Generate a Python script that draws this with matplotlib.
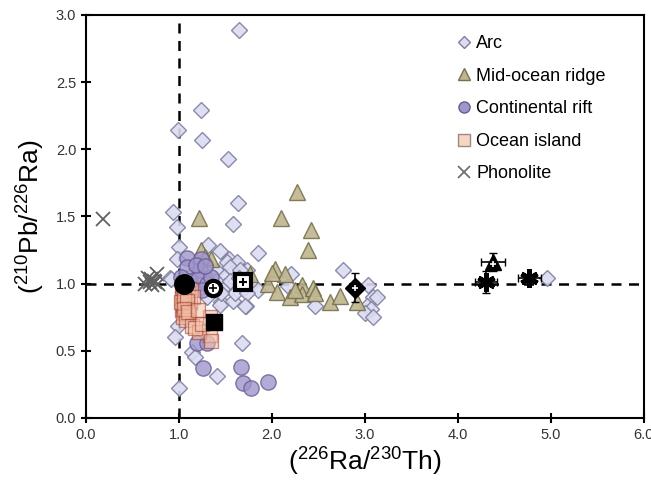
import matplotlib
matplotlib.use("Agg")
import matplotlib.pyplot as plt
from matplotlib.lines import Line2D

plt.rcParams["font.family"] = ["Liberation Sans", "DejaVu Sans"]
plt.rcParams["mathtext.default"] = "regular"

# Arc
arc_x = [1.65, 1.24, 0.99, 1.25, 1.53, 1.64, 0.94, 1.58, 0.98, 1.85, 1.00, 1.31, 1.44, 1.54,
         1.63, 1.73, 0.98, 0.90, 1.52, 1.62, 1.55, 1.41, 1.66, 1.30, 1.49, 2.76, 3.03, 3.09,
         3.13, 3.02, 3.07, 3.00, 3.09, 2.46, 1.72, 1.45, 1.58, 1.68, 2.17, 2.21, 0.99, 0.96,
         1.14, 1.17, 1.41, 1.00, 1.44, 4.96, 1.20, 1.35, 1.50, 1.60, 1.25, 1.40, 1.55, 1.70,
         1.10, 1.45, 0.92, 1.15, 1.65, 1.78, 1.85, 1.30, 1.73, 1.71]
arc_y = [2.89, 2.29, 2.14, 2.07, 1.93, 1.60, 1.53, 1.44, 1.42, 1.23, 1.27, 1.29, 1.24, 1.18,
         1.14, 1.10, 1.18, 1.04, 1.16, 1.16, 1.12, 1.09, 1.10, 1.03, 1.05, 1.10, 0.99, 0.90,
         0.90, 0.83, 0.81, 0.78, 0.75, 0.83, 0.83, 0.86, 0.87, 0.56, 0.98, 1.07, 0.68, 0.60,
         0.49, 0.45, 0.31, 0.22, 0.84, 1.04, 1.00, 0.95, 0.98, 0.93, 1.05, 1.02, 1.02, 0.97,
         0.92, 0.93, 1.03, 1.08, 1.04, 1.00, 0.95, 0.90, 0.93, 0.83]

# Mid-ocean ridge
mor_x = [2.27, 1.22, 2.10, 2.42, 2.39, 1.24, 1.34, 2.03, 2.14, 1.96, 2.06, 2.19, 2.32, 2.32,
         2.44, 2.46, 2.62, 2.73, 1.76, 2.91, 2.25, 2.00, 1.28]
mor_y = [1.68, 1.49, 1.49, 1.40, 1.25, 1.25, 1.18, 1.11, 1.07, 1.00, 0.94, 0.90, 0.99, 0.92,
         0.97, 0.93, 0.86, 0.91, 1.07, 0.86, 0.95, 1.08, 1.20]

# Continental rift
rift_x = [1.09, 1.24, 1.09, 1.23, 1.19, 1.30, 1.26, 1.67, 1.69, 1.78, 1.96, 1.02, 1.12, 1.20,
          1.30, 1.15, 1.05, 1.25, 1.35, 1.18, 1.28]
rift_y = [1.19, 1.18, 1.12, 1.10, 0.56, 0.56, 0.37, 0.38, 0.26, 0.22, 0.27, 1.05, 1.02, 1.03,
          1.00, 0.96, 0.93, 0.95, 1.05, 1.14, 1.13]

# Ocean island
oib_x = [1.03, 1.08, 1.04, 1.10, 1.03, 1.07, 1.12, 1.04, 1.09, 1.03, 1.07, 1.11, 1.04, 1.08,
         1.13, 1.06, 1.15, 1.02, 1.05, 1.09, 1.06, 1.10, 1.14, 1.33, 1.22, 1.35, 1.17, 1.33,
         1.25, 1.20]
oib_y = [0.98, 0.96, 0.93, 0.92, 0.89, 0.88, 0.86, 0.84, 0.82, 0.80, 0.78, 0.77, 0.75, 0.73,
         0.95, 1.00, 0.90, 0.86, 0.91, 0.87, 0.81, 0.79, 0.68, 0.62, 0.64, 0.57, 0.67, 0.75,
         0.70, 0.80]

# Phonolite
phon_x = [0.18, 0.67, 0.74, 0.71, 0.63, 0.76, 0.70, 0.78, 0.73, 0.69]
phon_y = [1.48, 1.04, 1.01, 0.99, 1.00, 1.07, 1.03, 1.00, 1.02, 1.01]

# black summary symbols (mean values)
mean_circle = (1.06, 1.00)
open_circle = (1.37, 0.97)
open_square = (1.69, 1.01)
filled_square = (1.38, 0.71)
diamond_pt = (2.89, 0.97, 0.11)
triangle_pt = (4.38, 1.16, 0.13, 0.07)
star_pts_x = [4.30, 4.77]
star_pts_y = [1.01, 1.04]
star_xerr = [0.12, 0.12]
star_yerr = [0.08, 0.0]

legend_labels = ["Arc", "Mid-ocean ridge", "Continental rift", "Ocean island", "Phonolite"]

arc_style = dict(marker="D", ms=8, mfc="#dcdcf2", mec="#7f7f9f", mew=1.0, ls="none", alpha=0.9)
mor_style = dict(marker="^", ms=11, mfc="#bfb68f", mec="#77704e", mew=1.0, ls="none", alpha=0.9)
rift_style = dict(marker="o", ms=11, mfc="#a195cc", mec="#665c94", mew=1.0, ls="none", alpha=0.8)
oib_style = dict(marker="s", ms=10, mfc="#f4c0a8", mec="#9c3322", mew=1.0, ls="none", alpha=0.55)
phon_style = dict(marker="x", ms=10, mec="#606060", mew=1.3, ls="none")

fig = plt.figure(figsize=(6.51, 4.83), dpi=100)
ax = fig.add_axes([0.132, 0.135, 0.857, 0.834])

ax.axvline(1.0, color="black", ls=(0, (4, 3)), lw=1.8, zorder=1)
ax.axhline(1.0, color="black", ls=(0, (4, 3)), lw=1.8, zorder=1)

ax.plot(phon_x, phon_y, **phon_style, zorder=2)
ax.plot(arc_x, arc_y, **arc_style, zorder=3)
ax.plot(mor_x, mor_y, **mor_style, zorder=3)
ax.plot(rift_x, rift_y, **rift_style, zorder=4)
ax.plot(oib_x, oib_y, **oib_style, zorder=4)

# summary symbols
ax.plot(*mean_circle, marker="o", ms=14, color="black", zorder=6)
ax.plot(*open_circle, marker="o", ms=11, mfc="white", mec="black", mew=3, zorder=6)
ax.plot(*open_circle, marker="+", ms=6, color="black", mew=1.2, zorder=7)
ax.plot(*open_square, marker="s", ms=11, mfc="white", mec="black", mew=3, zorder=6)
ax.plot(*open_square, marker="+", ms=6, color="black", mew=1.5, zorder=7)
ax.plot(*filled_square, marker="s", ms=12, color="black", zorder=6)
ax.errorbar(diamond_pt[0], diamond_pt[1], yerr=diamond_pt[2], fmt="D", ms=10, color="black",
            ecolor="black", elinewidth=1.2, capsize=3, zorder=6)
ax.plot(diamond_pt[0], diamond_pt[1], marker="+", ms=5, color="white", mew=1.2, zorder=7)
ax.errorbar(triangle_pt[0], triangle_pt[1], xerr=triangle_pt[2], yerr=triangle_pt[3], fmt="^",
            ms=12, color="black", elinewidth=1.2, capsize=3, zorder=6)
ax.plot(triangle_pt[0], triangle_pt[1] - 0.015, marker="+", ms=5, color="white", mew=1.2, zorder=7)
ax.errorbar(star_pts_x, star_pts_y, xerr=star_xerr, yerr=star_yerr, fmt="none",
            ecolor="black", elinewidth=1.2, capsize=3, zorder=6)
ax.plot(star_pts_x, star_pts_y, marker=(6, 2, 0), ms=13, color="black", mew=3.5, ls="none", zorder=7)

ax.set_xlim(0, 6)
ax.set_ylim(0, 3)
ax.set_xticks([0, 1, 2, 3, 4, 5, 6])
ax.set_yticks([0, 0.5, 1.0, 1.5, 2.0, 2.5, 3.0])
ax.set_xticklabels(["%.1f" % v for v in ax.get_xticks()])
ax.set_yticklabels(["%.1f" % v for v in ax.get_yticks()])
ax.tick_params(direction="inout", length=7, width=1.5, labelsize=10.5, labelcolor="#333333")
for s in ax.spines.values():
    s.set_linewidth(1.5)

ax.set_xlabel("($^{226}$Ra/$^{230}$Th)", fontsize=19, labelpad=3)
ax.set_ylabel("($^{210}$Pb/$^{226}$Ra)", fontsize=19, labelpad=6)

handles = [
    Line2D([], [], marker="D", ms=6, mfc="#dcdcf2", mec="#7f7f9f", ls="none"),
    Line2D([], [], marker="^", ms=8, mfc="#bfb68f", mec="#77704e", ls="none"),
    Line2D([], [], marker="o", ms=8, mfc="#a195cc", mec="#665c94", ls="none"),
    Line2D([], [], marker="s", ms=8, mfc="#f6d5c5", mec="#9a8a80", ls="none"),
    Line2D([], [], marker="x", ms=8, mec="#707070", mew=1.3, ls="none"),
]
ax.legend(handles, legend_labels, loc="upper left", bbox_to_anchor=(0.635, 0.99), frameon=False,
          fontsize=13, handlelength=0.8, handletextpad=0.3, labelspacing=0.86)

fig.savefig("out.png", dpi=100)
